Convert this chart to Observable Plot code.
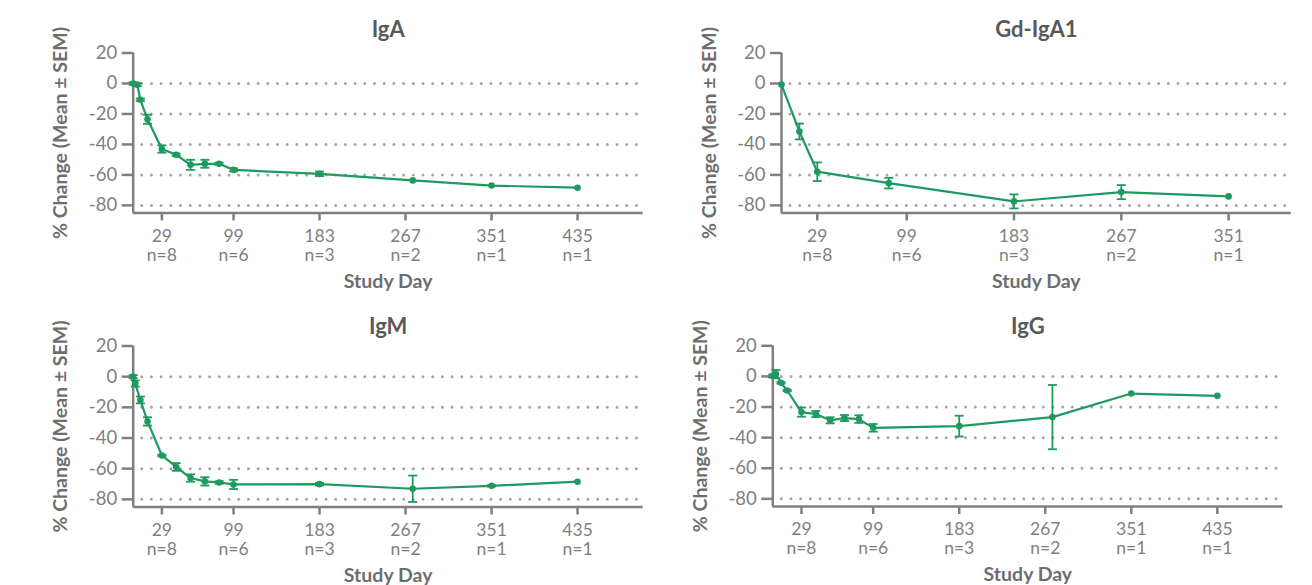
<!DOCTYPE html>
<html><head><meta charset="utf-8">
<script src="https://cdn.jsdelivr.net/npm/d3@7"></script>
<script src="https://cdn.jsdelivr.net/npm/@observablehq/plot@0.6"></script>
<style>
body{margin:0;background:#fff;}
#root{position:relative;width:1312px;height:585px;overflow:hidden;background:#fff;}
#root > div{position:absolute;}
</style></head><body><div id="root"></div>
<script>
// ---- data ----
const xTicks = [29, 99, 183, 267, 351, 435];
const nLabels = ["n=8", "n=6", "n=3", "n=2", "n=1", "n=1"];
const yTicks = [20, 0, -20, -40, -60, -80];
const gridValues = [0, -20, -40, -60, -80];
const yDomain = [-85, 20];
const yLabel = "% Change (Mean ± SEM)";
const xLabel = "Study Day";

const igaDay  = [1, 5, 8, 15, 29, 43, 57, 71, 85, 99, 183, 274, 351, 435];
const igaMean = [0, -0.8, -10.7, -23.5, -43, -46.8, -53.4, -52.7, -52.7, -56.7, -59.3, -63.6, -67, -68.4];
const igaSem  = [0.8, 1, 0.8, 3, 2.4, 0.8, 3.3, 2.6, 0.8, 1, 1.5, 0, 0, 0];

const gdDay  = [1, 15, 29, 85, 183, 267, 351];
const gdMean = [-0.7, -31.5, -57.9, -65.4, -77.4, -71.3, -74.1];
const gdSem  = [0, 5.2, 6.1, 3.5, 4.6, 4.6, 0];

const igmDay  = [1, 3, 8, 15, 29, 43, 57, 71, 85, 99, 183, 274, 351, 435];
const igmMean = [0, -4.5, -15.2, -29.2, -51.4, -58.9, -66.1, -68.3, -69, -70.3, -70.1, -73.1, -71.2, -68.5];
const igmSem  = [1, 2, 2.2, 2.7, 0.5, 2.5, 2.4, 2.7, 0.8, 3, 0.8, 8.6, 0.5, 0];

const iggDay  = [1, 4, 9, 15, 29, 43, 57, 71, 85, 99, 183, 274, 351, 435];
const iggMean = [0.3, 1.5, -4.2, -9.2, -23.3, -24.6, -28.7, -27.2, -27.9, -33.6, -32.5, -26.6, -11.2, -12.7];
const iggSem  = [1, 2.7, 0.5, 0.5, 3, 2, 2, 2, 2.5, 2.5, 6.8, 21, 0, 0];

// ---- style ----
const green = "#1e9a5f";
const axisColor = "#7f7f7f";
const gridColor = "#a6a6a6";
const labelColor = "#6e6e6e";
const titleColor = "#595959";
const font = "Lato, 'Open Sans', sans-serif";

const capSymbol = {
  draw(ctx, size) {
    const r = Math.sqrt(size / Math.PI);
    ctx.moveTo(-r, 0);
    ctx.lineTo(r, 0);
  }
};

function panel(cfg) {
  const data = cfg.day.map((d, i) => ({day: d, mean: cfg.mean[i], sem: cfg.sem[i]}));
  const bars = data.filter(d => d.sem > 0);
  const ticks = xTicks.filter(t => t <= cfg.xDomain[1]);
  const tickN = new Map(xTicks.map((t, i) => [t, nLabels[i]]));
  const chart = Plot.plot({
    width: cfg.width,
    height: cfg.height,
    marginLeft: cfg.ml, marginRight: cfg.mr, marginTop: cfg.mt, marginBottom: cfg.mb,
    x: {domain: cfg.xDomain},
    y: {domain: yDomain},
    style: {fontFamily: font, fontSize: "18px", color: axisColor, background: "transparent", overflow: "visible"},
    marks: [
      Plot.ruleY(gridValues, {stroke: gridColor, strokeWidth: 3, strokeDasharray: "0 9.7", strokeLinecap: "round", strokeDashoffset: -9}),
      Plot.ruleX([cfg.xDomain[0]], {stroke: axisColor, strokeWidth: 2.5}),
      Plot.ruleY([yDomain[0]], {stroke: axisColor, strokeWidth: 2.5}),
      Plot.axisY({ticks: yTicks, tickSize: 11, tickPadding: 5, tickFormat: d => String(d), strokeWidth: 2.5, fontSize: 18.5, label: null, fill: axisColor}),
      Plot.axisX({ticks, tickSize: 8, tickPadding: 7, tickFormat: d => `${d}\n${tickN.get(d)}`, strokeWidth: 2.5, fontSize: 17.5, lineHeight: 1.1, label: null, fill: axisColor}),
      Plot.ruleX(bars, {x: "day", y1: d => d.mean - d.sem, y2: d => d.mean + d.sem, stroke: green, strokeWidth: 1.8}),
      Plot.dot(bars, {x: "day", y: d => d.mean + d.sem, symbol: capSymbol, r: 4.5, stroke: green, strokeWidth: 1.8, fill: "none"}),
      Plot.dot(bars, {x: "day", y: d => d.mean - d.sem, symbol: capSymbol, r: 4.5, stroke: green, strokeWidth: 1.8, fill: "none"}),
      Plot.line(data, {x: "day", y: "mean", stroke: green, strokeWidth: 2.2}),
      Plot.dot(data, {x: "day", y: "mean", r: 3.3, fill: green}),
      Plot.text([cfg.title], {frameAnchor: "top", dy: cfg.titleDy, lineAnchor: "bottom", fontSize: 22, fontWeight: "bold", fill: titleColor}),
      Plot.text([yLabel], {frameAnchor: "left", textAnchor: "middle", dx: -72, rotate: -90, fontSize: 19.5, fontWeight: "bold", fill: labelColor}),
      Plot.text([xLabel], {frameAnchor: "bottom", dy: 61, lineAnchor: "top", fontSize: 19.5, fontWeight: "bold", fill: labelColor})
    ]
  });
  const wrap = document.createElement("div");
  wrap.style.left = cfg.left + "px";
  wrap.style.top = cfg.top + "px";
  wrap.appendChild(chart);
  document.getElementById("root").appendChild(wrap);
}

panel({title: "IgA", day: igaDay, mean: igaMean, sem: igaSem, xDomain: [1, 499],
  left: 0, top: 0, width: 655, height: 300, ml: 132.7, mr: 12.4, mt: 52.5, mb: 87.5, titleDy: -16});
panel({title: "Gd-IgA1", day: gdDay, mean: gdMean, sem: gdSem, xDomain: [1, 400],
  left: 655, top: 0, width: 657, height: 300, ml: 126, mr: 21.3, mt: 52.5, mb: 87.5, titleDy: -16});
panel({title: "IgM", day: igmDay, mean: igmMean, sem: igmSem, xDomain: [1, 499],
  left: 0, top: 293, width: 655, height: 292, ml: 132.7, mr: 12.4, mt: 52.5, mb: 78.5, titleDy: -12});
panel({title: "IgG", day: iggDay, mean: iggMean, sem: iggSem, xDomain: [1, 499],
  left: 655, top: 293, width: 657, height: 292, ml: 117.3, mr: 29.6, mt: 52.3, mb: 79, titleDy: -12});
</script></body></html>
